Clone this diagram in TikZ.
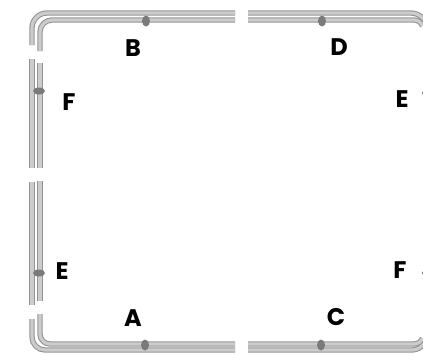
\documentclass[tikz,border=0pt]{standalone}
\usepackage{fontspec}
\setmainfont{Poppins}
\tikzset{
    tube/.style = {draw = black!42, double = black!20, double distance = 2.4pt, line width = 0.8pt, line cap = butt},
    bolt/.style = {fill = black!52},
    letter/.style = {font = \fontsize{18pt}{18pt}\selectfont\bfseries, inner sep = 0pt},
}

\begin{document}
\begin{tikzpicture}[x = 0.75pt, y = -0.75pt]
    \useasboundingbox (0,0) rectangle (423,354);
    \clip (0,0) rectangle (423,354);

    \begin{scope}
        % top rail
        \draw[tube] (32,45) -- (32,28) arc[start angle = 180, end angle = 270, radius = 15] -- (235,13);
        \draw[tube] (40,51) -- (40,32) arc[start angle = 180, end angle = 270, radius = 12] -- (235,20);
        \draw[tube] (248,13) -- (411,13) arc[start angle = 270, end angle = 330, radius = 16];
        \draw[tube] (248,20) -- (414,20) arc[start angle = 270, end angle = 340, radius = 9];

        % bottom rail
        \draw[tube] (32,319) -- (32,337) arc[start angle = 180, end angle = 90, radius = 13] -- (235,350);
        \draw[tube] (40,314) -- (40,334) arc[start angle = 180, end angle = 90, radius = 10] -- (235,344);
        \draw[tube] (248,350) -- (412,350) arc[start angle = 90, end angle = 30, radius = 14];
        \draw[tube] (248,344) -- (414,344) arc[start angle = 90, end angle = 20, radius = 9];

        % left rail
        \draw[tube] (32,59) -- (32,168);
        \draw[tube] (40,63) -- (40,168);
        \draw[tube] (32,182) -- (32,305);
        \draw[tube] (40,181) -- (40,301);
    \end{scope}

    \fill[bolt] (146,21) ellipse (4 and 5.5);
    \fill[bolt] (322,21) ellipse (4 and 5.5);
    \fill[bolt] (145,345) ellipse (4 and 5.5);
    \fill[bolt] (321,345) ellipse (4 and 5.5);
    \fill[bolt] (39,91) ellipse (6 and 3.5);
    \fill[bolt] (39,273) ellipse (6 and 3.5);
    \fill[bolt] (424,93) circle (2);
    \fill[bolt] (424,273) circle (2);

    \node[letter] (labelB) at (133,48) {B};
    \node[letter] (labelD) at (339,47) {D};
    \node[letter] (labelFleft) at (69,102) {F};
    \node[letter] (labelEright) at (402,99) {E};
    \node[letter] (labelEleft) at (62,271) {E};
    \node[letter] (labelFright) at (400,270) {F};
    \node[letter] (labelA) at (133,318) {A};
    \node[letter] (labelC) at (336,317) {C};
\end{tikzpicture}
\end{document}
